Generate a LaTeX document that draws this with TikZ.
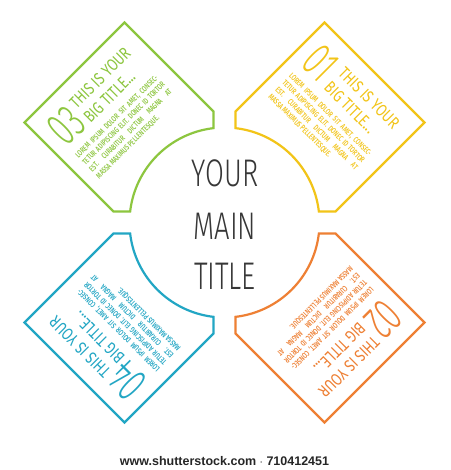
\documentclass[tikz,border=0pt]{standalone}
\usepackage{fontspec}
\newfontfamily\maintitlefont{Fira Sans Light}[FakeStretch=0.71]
\newfontfamily\numfont{Fira Sans Light}[FakeStretch=0.62]
\newfontfamily\boxtitlefont{Fira Sans}[FakeStretch=0.78]
\newfontfamily\bodyfont{Fira Sans Medium}[FakeStretch=0.72]
\newfontfamily\footfont{Liberation Sans}
\definecolor{cgreen}{RGB}{141,198,63}
\definecolor{cyellow}{RGB}{242,196,24}
\definecolor{corange}{RGB}{238,128,52}
\definecolor{cblue}{RGB}{34,166,196}
\definecolor{ctitle}{RGB}{55,55,55}
\newlength\bodyw
\setlength\bodyw{113pt}
\tikzset{
  boxline/.style={line width=2.2pt, line join=miter},
  numtext/.style={anchor=base west, font=\numfont\fontsize{48}{48}\selectfont},
  boxtitle/.style={anchor=base west, font=\boxtitlefont\fontsize{17}{17}\selectfont},
  bodytext/.style={anchor=north west, align=left, font=\bodyfont\fontsize{8}{9.8}\selectfont},
  maintitle/.style={anchor=base, text=ctitle, font=\maintitlefont\fontsize{38.5}{38.5}\selectfont, inner sep=0pt},
}
\newcommand\quadrant[3]{%
\begin{scope}[rotate=#3]
  \draw[#1, boxline] (-200,100) -- (-100,200) -- (-11,111) -- (-11,94.36)
     arc[start angle=96.65, end angle=173.35, radius=95] -- (-111,11) -- cycle;
  \begin{scope}[shift={(-100,100)}, rotate=45,
      every node/.append style={transform shape, text=#1, inner sep=0pt}]
    \node[numtext] (num#2) at (-59,23) {#2};
    \node[boxtitle] (ta#2) at (-25,43) {THIS IS YOUR};
    \node[boxtitle] (tb#2) at (-25,23) {BIG TITLE...};
    \node[bodytext] (body#2) at (-58,13) {%
      \makebox[\bodyw][s]{LOREM IPSUM DOLOR SIT AMET, CONSEC-}\\
      \makebox[\bodyw][s]{TETUR ADIPISCING ELIT. DONEC ID TORTOR}\\
      \makebox[\bodyw][s]{EST. \ CURABITUR \ DICTUM \ MAGNA \ AT}\\
      MASSA MAXIMUS PELLENTESQUE.};
  \end{scope}
\end{scope}}
\begin{document}
\begin{tikzpicture}[x=1pt,y=1pt]
\useasboundingbox[fill=white] (-224.5,-247.5) rectangle (225.5,222.5);
\quadrant{cgreen}{03}{0}
\quadrant{cyellow}{01}{-90}
\quadrant{corange}{02}{-180}
\quadrant{cblue}{04}{-270}
\node[maintitle] (m1) at (0.5,36) {YOUR};
\node[maintitle] (m2) at (0.5,-17.5) {MAIN};
\node[maintitle] (m3) at (0.5,-67.5) {TITLE};
\node[font=\footfont\bfseries\fontsize{12.5}{12.5}\selectfont, text=black!85] (foot) at (0,-238.5) {www.shutterstock.com $\cdot$ 710412451};
\end{tikzpicture}
\end{document}
